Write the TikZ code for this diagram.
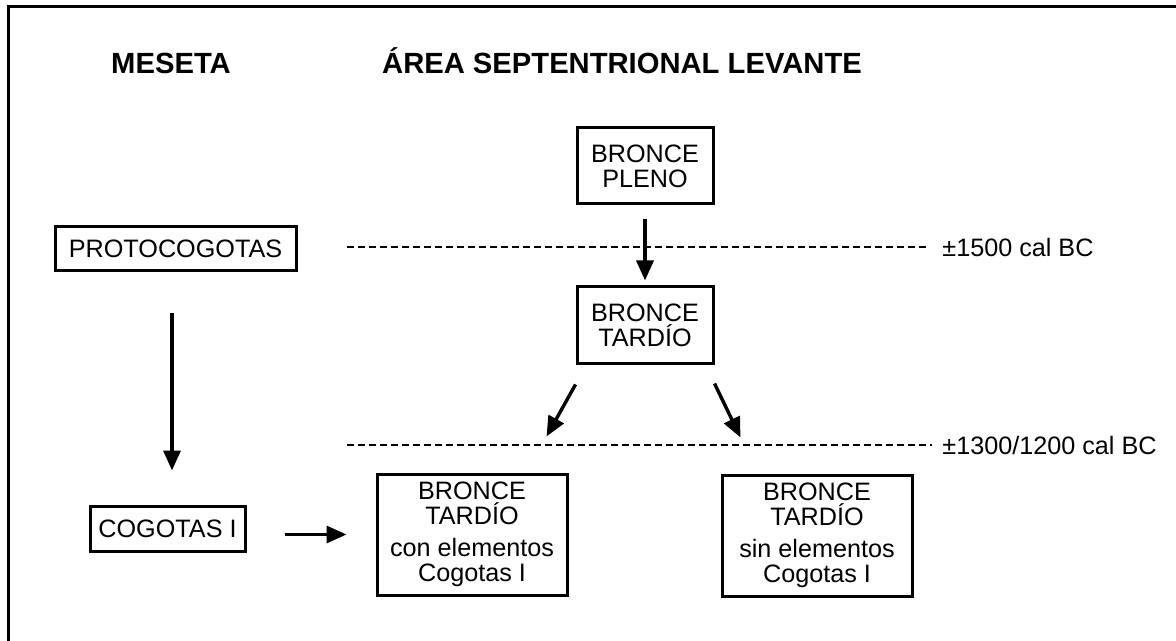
\documentclass[tikz,border=0pt]{standalone}
\usepackage{fontspec}
\setmainfont{Liberation Sans}
\usetikzlibrary{arrows.meta}

\begin{document}
\begin{tikzpicture}[
    x=0.5pt, y=-0.5pt,
    phase/.style={
        rectangle,
        draw=black,
        line width=1.5pt,
        inner sep=2pt,
        font=\fontsize{12.6pt}{12.4pt}\selectfont,
        align=center
    },
    heading/.style={
        anchor=base,
        inner sep=0pt,
        font=\fontsize{14.6pt}{16pt}\selectfont\bfseries
    },
    datelabel/.style={
        anchor=west,
        inner sep=4pt,
        font=\fontsize{12.6pt}{14pt}\selectfont
    },
    flow/.style={
        -{Triangle[length=10pt,width=8.5pt]},
        line width=1.7pt
    },
    limit/.style={
        line width=1.3pt,
        dash pattern=on 3.5pt off 2pt
    }
]
\useasboundingbox (0,0) rectangle (1176,641);

% Frame
\draw[line width=1.5pt] (1190,7) -- (8,7) -- (8,660);

% Headings
\node[heading] (meseta) at (171,73.5) {MESETA};
\node[heading] (levante) at (622,73.5) {ÁREA SEPTENTRIONAL LEVANTE};

% Meseta sequence
\node[phase, minimum width=120.5pt, minimum height=22pt] (proto) at (175.5,249) {PROTOCOGOTAS};
\node[phase, minimum width=77.5pt, minimum height=22.5pt] (cogotas) at (167.5,528.5) {COGOTAS I};

% Levante sequence
\node[phase, minimum width=68pt, minimum height=38pt] (pleno) at (645,166) {BRONCE\\PLENO};
\node[phase, minimum width=68pt, minimum height=38pt] (tardio) at (645,325) {BRONCE\\TARDÍO};
\node[phase, minimum width=95pt, minimum height=60.5pt] (con) at (472,534.5) {BRONCE\\TARDÍO\\[3.8pt]con elementos\\Cogotas I};
\node[phase, minimum width=95pt, minimum height=60.5pt] (sin) at (817,535.5) {BRONCE\\TARDÍO\\[3.8pt]sin elementos\\Cogotas I};

% Dates
\node[datelabel] (d1500) at (934,247) {±1500 cal BC};
\node[datelabel] (d1300) at (934,445) {±1300/1200 cal BC};
\draw[limit, shorten >=3pt] (347,247) -- (d1500.west);
\draw[limit, shorten >=1pt] (347,445) -- (d1300.west);

% Arrows
\draw[flow, shorten <=7pt, shorten >=2.5pt] (pleno.south) -- (tardio.north);
\draw[flow, shorten <=20.5pt, shorten >=17pt] ([xshift=-1.75pt]proto.south) -- ([xshift=-1.75pt]proto.south |- cogotas.north);
\draw[flow, shorten <=19pt, shorten >=14.5pt] (cogotas.east |- con.west) -- (con.west);
\draw[flow] ([yshift=-10pt]tardio.south west) -- ([xshift=-11pt,yshift=18pt]con.north east);
\draw[flow] ([yshift=-9.5pt]tardio.south east) -- ([xshift=10pt,yshift=18pt]sin.north west);

\end{tikzpicture}
\end{document}
